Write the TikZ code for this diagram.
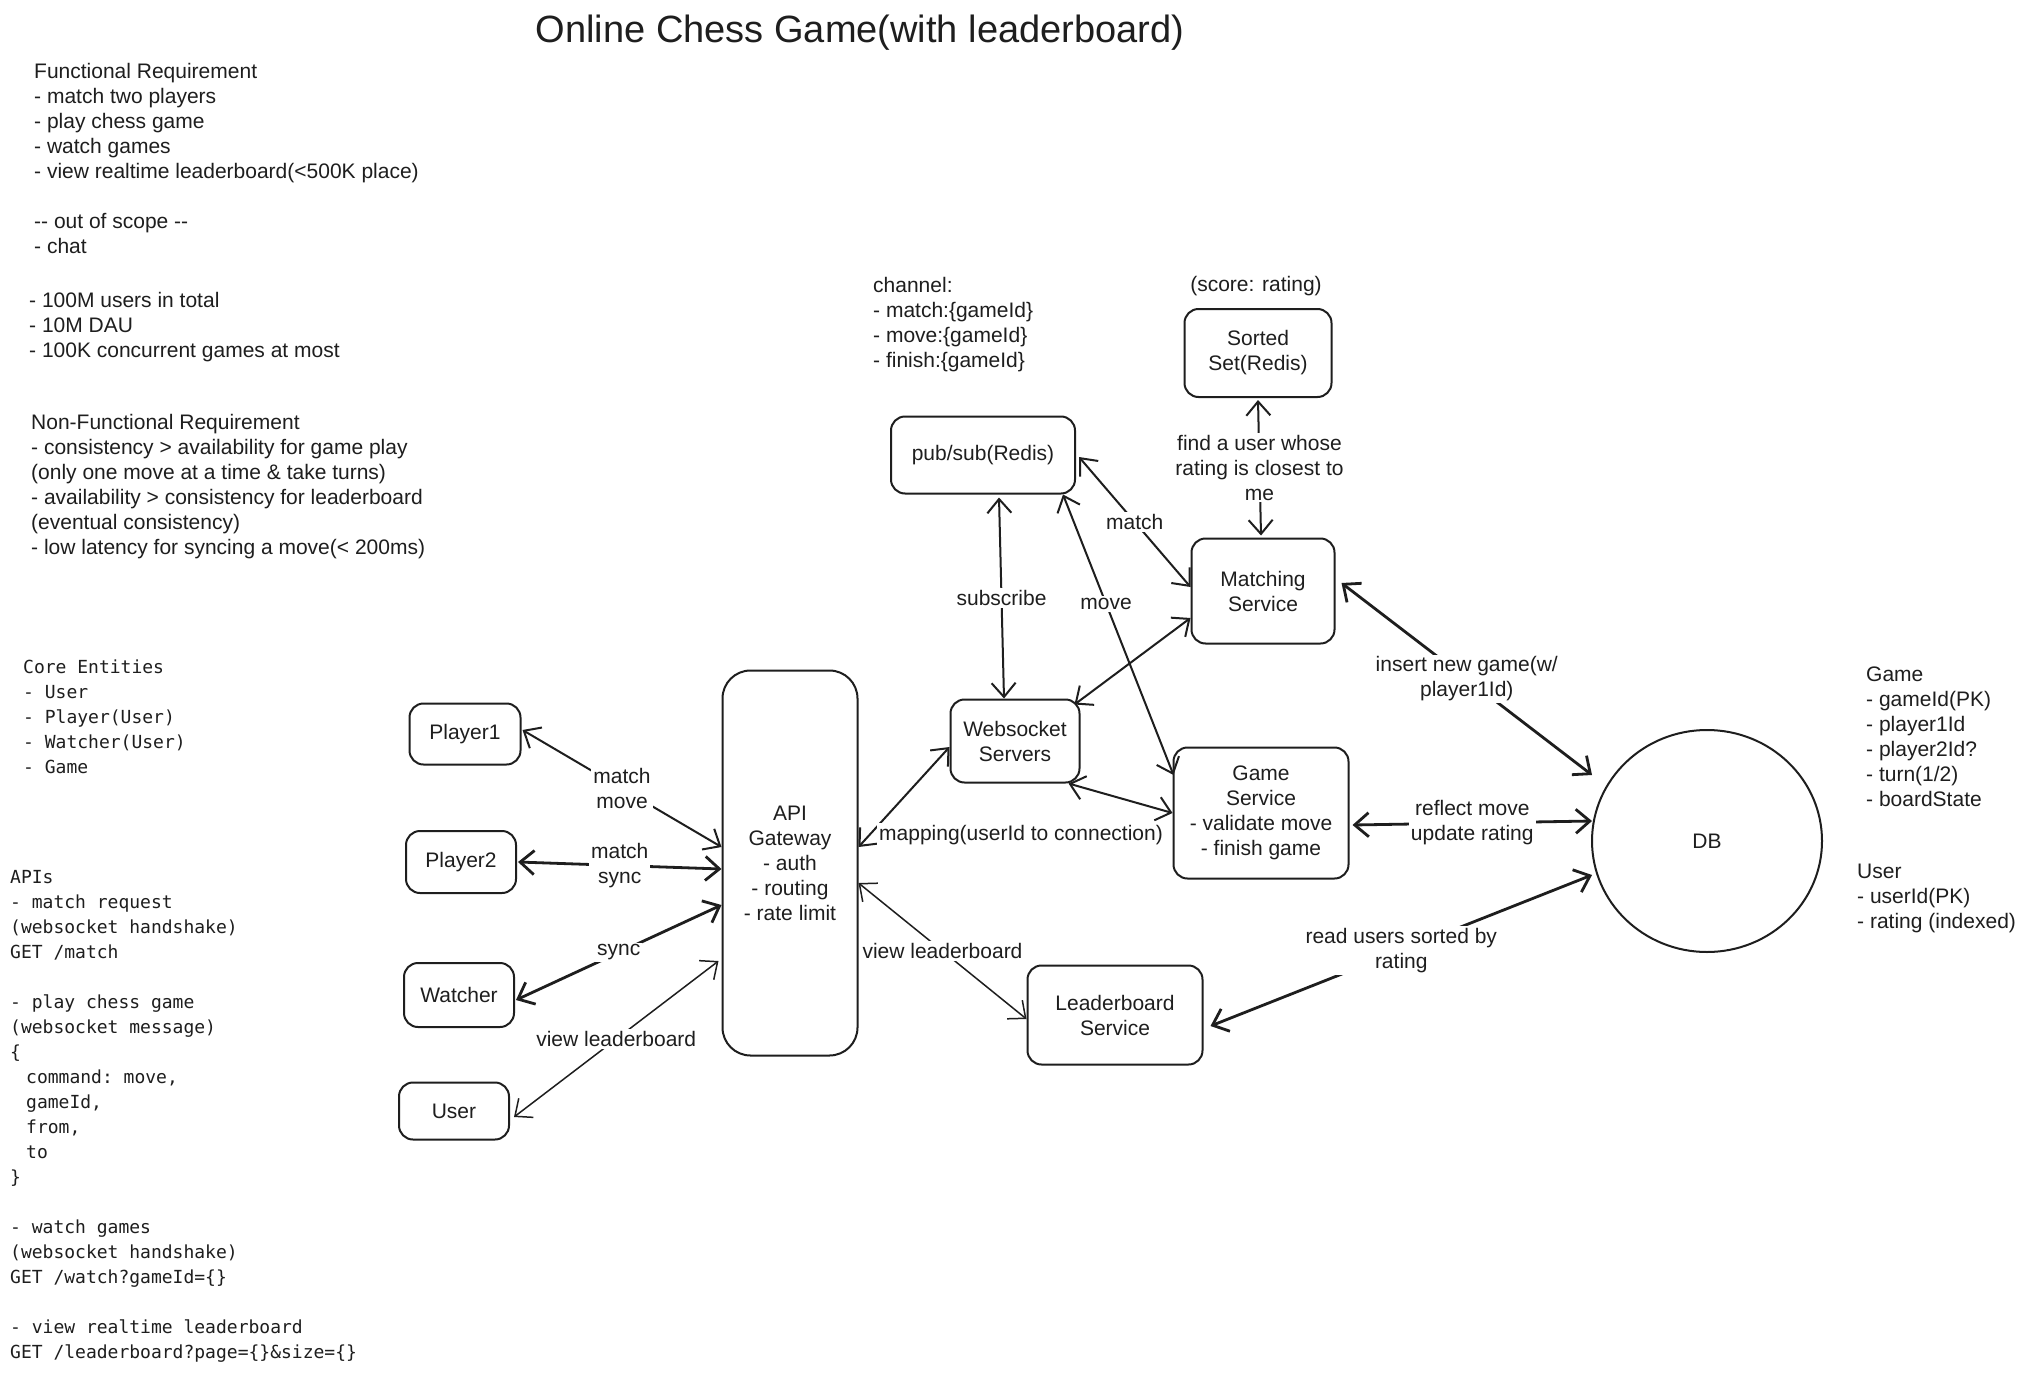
\documentclass[tikz,border=0pt]{standalone}
\usepackage{fontspec}
\setmainfont{Liberation Sans}
\setmonofont{DejaVu Sans Mono}
\usetikzlibrary{arrows.meta,shapes.geometric,calc}
\definecolor{ink}{HTML}{1E1E1E}
\newcommand{\txtlines}[1]{\begin{tabular}[t]{@{}l@{}}#1\end{tabular}}
\begin{document}
\begin{tikzpicture}[x=1pt,y=-1pt,
  every node/.style={text=ink},
  font=\fontsize{21}{25}\selectfont,
  box/.style={draw=ink, line width=2pt, rounded corners=14pt, align=center, inner sep=0pt},
  >={Straight Barb[length=14pt,width=24pt]},
  conn/.style={draw=ink, line width=2pt, line cap=round, <->},
  thickconn/.style={conn, line width=2.8pt},
  thinconn/.style={conn, line width=1.5pt},
  lbl/.style={fill=white, inner sep=2pt, align=center},
  txt/.style={anchor=base west, inner sep=0pt},
  mono/.style={font=\ttfamily\fontsize{18}{25}\selectfont}
]
\fill[white] (0,0) rectangle (2036,1375);
\useasboundingbox (0,0) rectangle (2036,1375);

% title
\node (title) at (860,33) {\fontsize{38}{44}\selectfont Online Chess Game(with leaderboard)};

% left text blocks
\node[txt] (func) at (34,79) {\txtlines{Functional Requirement\\- match two players\\- play chess game\\- watch games\\- view realtime leaderboard(\textless 500K place)\\ \\-{}- out of scope -{}-\\- chat}};
\node[txt] (scale) at (29,307) {\txtlines{- 100M users in total\\- 10M DAU\\- 100K concurrent games at most}};
\node[txt] (nonfunc) at (31,429) {\txtlines{Non-Functional Requirement\\- consistency \textgreater{} availability for game play\\(only one move at a time \& take turns)\\- availability \textgreater{} consistency for leaderboard\\(eventual consistency)\\- low latency for syncing a move(\textless{} 200ms)}};
\node[txt,mono] (core) at (23,673) {\txtlines{Core Entities\\- User\\- Player(User)\\- Watcher(User)\\- Game}};
\node[txt,mono] (apis) at (10,883) {\txtlines{APIs\\- match request\\(websocket handshake)\\GET /match\\ \\- play chess game\\(websocket message)\\\{\\\hspace*{16pt}command: move,\\\hspace*{16pt}gameId,\\\hspace*{16pt}from,\\\hspace*{16pt}to\\\}\\ \\- watch games\\(websocket handshake)\\GET /watch?gameId=\{\}\\ \\- view realtime leaderboard\\GET /leaderboard?page=\{\}\&size=\{\}}};

% right text blocks
\node[txt] (chan) at (873,292) {\txtlines{channel:\\- match:\{gameId\}\\- move:\{gameId\}\\- finish:\{gameId\}}};
\node (score) at (1256,286) {(score: rating)};
\node[txt] (gametbl) at (1866,681) {\txtlines{Game\\- gameId(PK)\\- player1Id\\- player2Id?\\- turn(1/2)\\- boardState}};
\node[txt] (usertbl) at (1857,878) {\txtlines{User\\- userId(PK)\\- rating (indexed)}};

% nodes
\node[box, minimum width=111pt, minimum height=61pt] (p1) at (465,734) {Player1};
\node[box, minimum width=110pt, minimum height=62pt] (p2) at (461,862) {Player2};
\node[box, minimum width=110pt, minimum height=64pt] (wat) at (459,995) {Watcher};
\node[box, minimum width=110pt, minimum height=57pt] (usr) at (454,1111) {User};
\node[box, rounded corners=28pt, minimum width=135pt, minimum height=385pt] (api) at (790,863) {API\\Gateway\\- auth\\- routing\\- rate limit};
\node[box, minimum width=129pt, minimum height=83pt] (ws) at (1015,741) {Websocket\\Servers};
\node[box, minimum width=184pt, minimum height=77pt] (ps) at (983,455) {pub/sub(Redis)};
\node[box, minimum width=147pt, minimum height=88pt] (ss) at (1258,353) {Sorted\\Set(Redis)};
\node[box, minimum width=143pt, minimum height=105pt] (ms) at (1263,591) {Matching\\Service};
\node[box, minimum width=175pt, minimum height=131pt] (gs) at (1261,813) {Game\\Service\\- validate move\\- finish game};
\node[box, minimum width=175pt, minimum height=99pt] (lb) at (1115,1015) {Leaderboard\\Service};
\node[draw=ink, line width=2pt, ellipse, minimum width=230pt, minimum height=222pt, inner sep=0pt] (db) at (1707,841) {DB};

% connectors
\draw[conn] ($(p1.east)+(1,-4)$) -- node[lbl]{match\\move} ($(api.west)+(0,-16)$);
\draw[thickconn] ($(p2.east)+(1,0)$) -- node[lbl]{match\\sync} ($(api.west)+(0,6)$);
\draw[thickconn] ($(wat.east)+(1,5)$) -- node[lbl]{sync} ($(api.west)+(0,42)$);
\draw[thinconn] ($(usr.east)+(4,6)$) -- node[lbl]{view leaderboard} ($(api.west)+(-3,98)$);
\draw[conn] ($(api.east)+(0,-16)$) -- ($(ws.west)+(0,6)$);
\draw[thinconn] ($(api.east)+(0,20)$) -- node[lbl]{view leaderboard} ($(lb.west)+(0,4)$);
\draw[conn] ($(ws.south east)+(-12,0)$) -- (gs.west);
\node[lbl] (maplbl) at (1021,835) {mapping(userId to connection)};
\draw[conn] ($(ws.north east)+(-6,6)$) -- ($(ms.west)+(0,27)$);
\draw[conn] ($(ps.south)+(16,3)$) -- node[lbl]{subscribe} ($(ws.north)+(-11,0)$);
\draw[conn] ($(ps.south east)+(-13,0)$) -- node[lbl, pos=0.39]{move} ($(gs.west)+(1,-38)$);
\draw[conn] ($(ps.east)+(3,2)$) -- node[lbl]{match} ($(ms.west)+(0,-4)$);
\draw[conn] ($(ss.south)+(0,2)$) -- node[lbl]{find a user whose\\rating is closest to\\me} ($(ms.north)+(-2,-2)$);
\draw[thickconn] ($(ms.east)+(6,-8)$) -- node[lbl]{insert new game(w/\\player1Id)} ($(db.center)+(-115,-66)$);
\draw[thickconn] ($(gs.east)+(3,12)$) -- node[lbl]{reflect move\\update rating} ($(db.center)+(-115,-20)$);
\draw[thickconn] ($(lb.east)+(7,11)$) -- node[lbl]{read users sorted by\\rating} ($(db.center)+(-115,34)$);
\end{tikzpicture}
\end{document}
